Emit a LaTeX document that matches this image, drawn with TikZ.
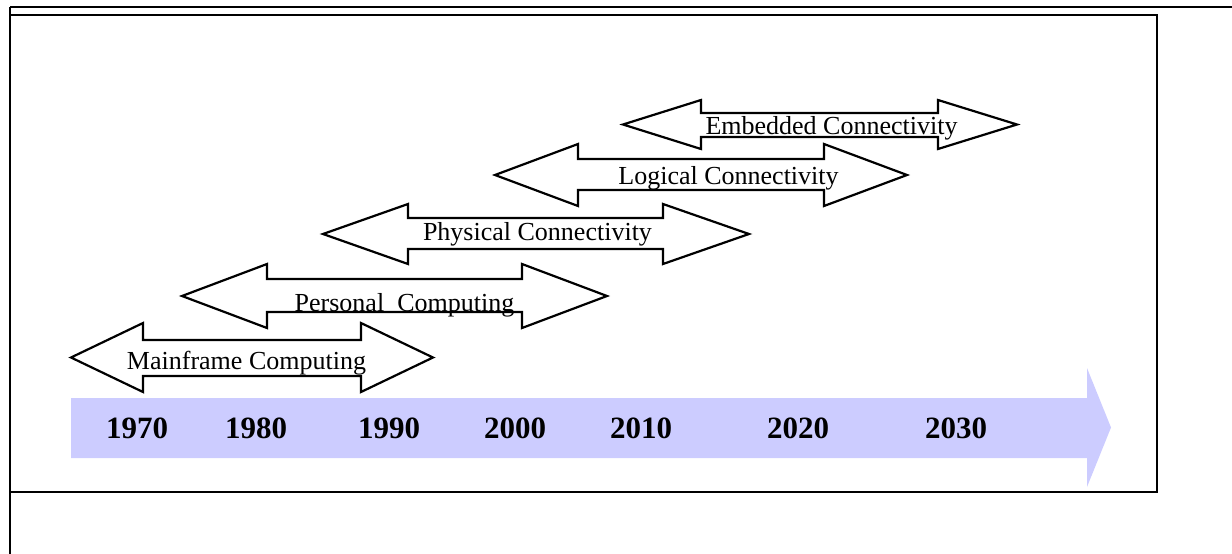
\documentclass[tikz,border=0pt]{standalone}
\usepackage{fontspec}
\setmainfont{Liberation Serif}
\definecolor{tlblue}{HTML}{CCCCFF}
\tikzset{
  frameline/.style={line width=2.4pt, black},
  dblarrow/.style={draw=black, fill=white, line width=2.2pt, line join=miter},
  timeline/.style={fill=tlblue, draw=none},
  lbl/.style={anchor=base, inner sep=0pt, font=\fontsize{26}{30}\selectfont},
  yr/.style={anchor=base, inner sep=0pt, font=\fontsize{31}{36}\selectfont\bfseries},
}
% #1 left tip, #2 left shaft x, #3 right shaft x, #4 right tip, #5 head top, #6 shaft top, #7 shaft bottom, #8 head bottom
\newcommand\mydarrow[8]{%
  \path[dblarrow] (#1,{(#5+#8)/2}) -- (#2,#5) -- (#2,#6) -- (#3,#6) -- (#3,#5) -- (#4,{(#5+#8)/2})
    -- (#3,#8) -- (#3,#7) -- (#2,#7) -- (#2,#8) -- cycle;}
\begin{document}
\begin{tikzpicture}[x=1pt,y=-1pt]
\useasboundingbox (0,0) rectangle (1232,554);
% frames
\draw[frameline] (10,7) -- (1232,7);
\draw[frameline] (10,7) -- (10,554);
\draw[frameline] (10,15) rectangle (1157,492);
% timeline arrow
\path[timeline] (71,398) -- (1087,398) -- (1087,368) -- (1111,427.5) -- (1087,487) -- (1087,458) -- (71,458) -- cycle;
\node[yr] (y1970) at (137,438) {1970};
\node[yr] (y1980) at (256,438) {1980};
\node[yr] (y1990) at (389,438) {1990};
\node[yr] (y2000) at (515,438) {2000};
\node[yr] (y2010) at (641,438) {2010};
\node[yr] (y2020) at (798,438) {2020};
\node[yr] (y2030) at (956,438) {2030};
% era arrows
\mydarrow{71}{143}{361}{433}{323}{340}{376}{392}
\node[lbl] (mainframe) at (246.5,369) {Mainframe Computing};
\mydarrow{182}{267}{522}{607}{264}{279}{312}{328}
\node[lbl] (personal) at (404.5,311) {Personal\ \ Computing};
\mydarrow{323}{408}{663}{749}{204}{218}{249}{264}
\node[lbl] (physical) at (537.5,240) {Physical Connectivity};
\mydarrow{495}{578}{824}{907}{144}{159}{190}{206}
\node[lbl] (logical) at (728.5,184) {Logical Connectivity};
\mydarrow{623}{701}{938}{1017}{100}{113}{137}{149}
\node[lbl] (embedded) at (831.5,134) {Embedded Connectivity};
\end{tikzpicture}
\end{document}
